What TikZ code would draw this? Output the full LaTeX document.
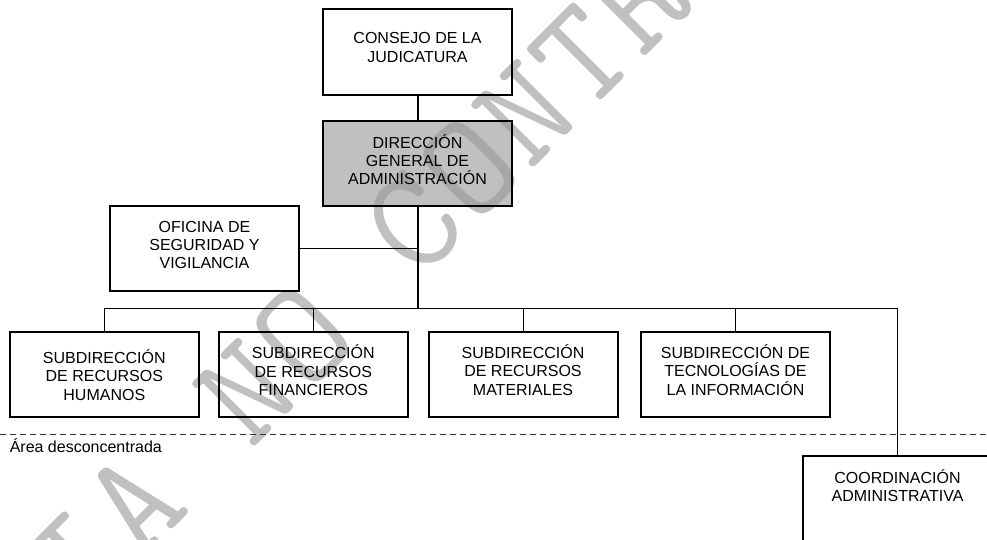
\documentclass[tikz,border=0pt]{standalone}
\usepackage{fontspec}
\setmainfont{Liberation Sans}
\definecolor{wmgray}{RGB}{192,192,192}
\definecolor{boxgray}{RGB}{153,153,153}
% one monospaced cell of the stamp lettering
\newcommand\stampcell[1]{\makebox[59.25pt]{#1}}
\begin{document}
\begin{tikzpicture}[x=0.75pt,y=-0.75pt,
  unit/.style={draw=black,line width=1.5pt,inner sep=0pt,
    minimum width=141.75pt,minimum height=64pt},
  headunit/.style={unit,fill=boxgray,fill opacity=0.62},
  lbl/.style={align=center,inner sep=0pt,
    font=\fontsize{12}{13.75}\selectfont,
    execute at begin node=\strut,execute at end node=\strut},
  link/.style={draw=black,line width=1.1pt},
  divider/.style={draw=black!80,line width=0.8pt,dash pattern=on 4.5pt off 3pt},
  wm/.style={inner sep=0pt,text=wmgray,font=\ttfamily\fontsize{110}{110}\selectfont}]

\useasboundingbox (0,0) rectangle (987,539);
\clip (0,0) rectangle (987,539);

% background stamp
\node[wm,rotate=45] (stamp) at (413.7,224.3)
  {\stampcell{C}\stampcell{O}\stampcell{P}\stampcell{I}\stampcell{A}\stampcell{}%
   \stampcell{N}\stampcell{O}\stampcell{}%
   \stampcell{C}\stampcell{O}\stampcell{N}\stampcell{T}\stampcell{R}\stampcell{O}%
   \stampcell{L}\stampcell{A}\stampcell{D}\stampcell{A}};

% units
\node[unit]     (consejo)      at (417.8,51.9)  {};
\node[headunit] (direccion)    at (417.8,163.2) {};
\node[unit]     (oficina)      at (204.5,248.4) {};
\node[unit]     (humanos)      at (104.7,374.4) {};
\node[unit]     (financieros)  at (313.7,374.4) {};
\node[unit]     (materiales)   at (523.7,374.4) {};
\node[unit]     (tecnologias)  at (735.7,374.4) {};
\node[unit]     (coordinacion) at (897.7,498.4) {};

% bus level and divider ends
\coordinate (busy) at (0,308.3);
\coordinate (dl) at (0,434.7);
\coordinate (dr) at (987,434.7);

% connectors
\draw[link] (consejo.south) -- (direccion.north);
\draw[link] (direccion.south) -- (direccion.south |- busy);
\draw[link] (oficina.east) -- (oficina.east -| direccion.south);
\draw[link] (humanos.north) -- (humanos.north |- busy)
  -- (coordinacion.north |- busy) -- (coordinacion.north);
\draw[link] (financieros.north) -- (financieros.north |- busy);
\draw[link] (materiales.north) -- (materiales.north |- busy);
\draw[link] (tecnologias.north) -- (tecnologias.north |- busy);

% boundary of the decentralised area
\draw[divider] (dl) -- (dr);

% labels
\node[lbl] (consejo-t)      at (417.5,50.3)  {CONSEJO DE LA\\JUDICATURA};
\node[lbl] (direccion-t)    at (417.5,162.2) {DIRECCIÓN\\GENERAL DE\\ADMINISTRACIÓN};
\node[lbl] (oficina-t)      at (204.5,247.6) {OFICINA DE\\SEGURIDAD Y\\VIGILANCIA};
\node[lbl] (humanos-t)      at (104.3,377.8) {SUBDIRECCIÓN\\DE RECURSOS\\HUMANOS};
\node[lbl] (financieros-t)  at (313.3,373.0) {SUBDIRECCIÓN\\DE RECURSOS\\FINANCIEROS};
\node[lbl] (materiales-t)   at (523.0,372.6) {SUBDIRECCIÓN\\DE RECURSOS\\MATERIALES};
\node[lbl] (tecnologias-t)  at (735.5,372.6) {SUBDIRECCIÓN DE\\TECNOLOGÍAS DE\\LA INFORMACIÓN};
\node[lbl] (coordinacion-t) at (897.5,488.2) {COORDINACIÓN\\ADMINISTRATIVA};
\node[inner sep=0pt,anchor=base west,font=\fontsize{12}{13.75}\selectfont]
  (area) at (9.5,452.7) {Área desconcentrada};
\end{tikzpicture}
\end{document}
